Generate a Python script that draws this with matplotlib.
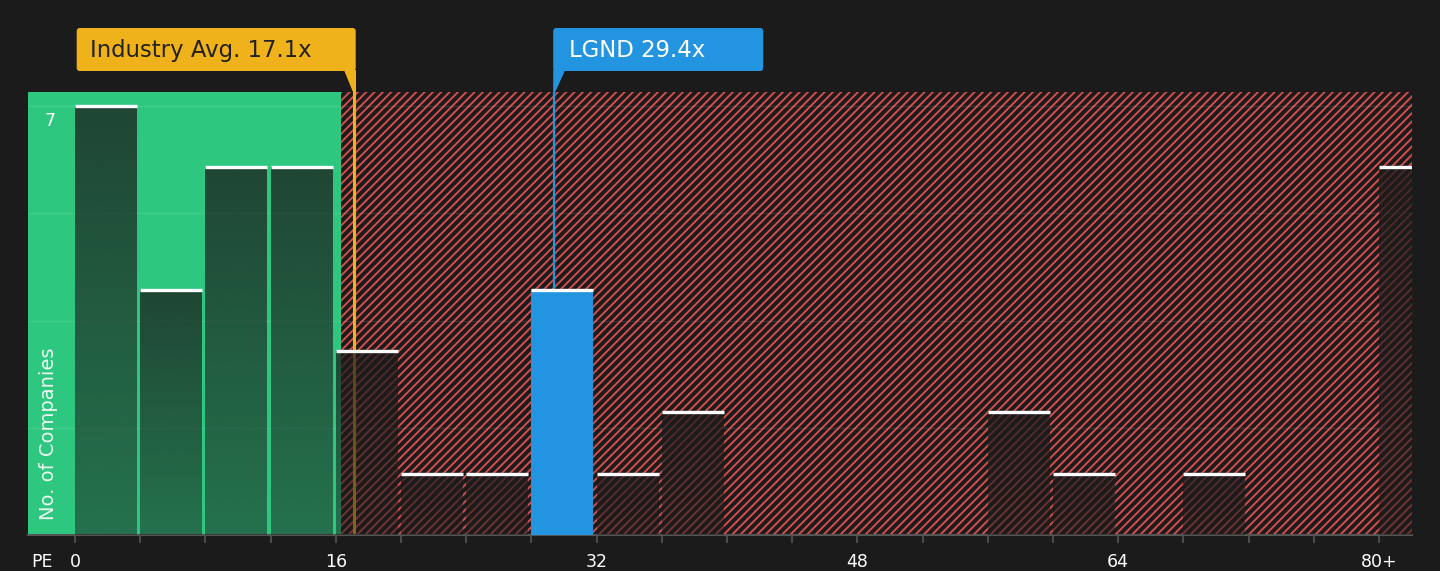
import numpy as np
import matplotlib.pyplot as plt
from matplotlib.patches import FancyBboxPatch, Polygon
from matplotlib.transforms import IdentityTransform

# data
bin_starts = list(range(0, 84, 4))
counts = [7, 4, 6, 6, 3, 1, 1, 4, 1, 2, 0, 0, 0, 0, 2, 1, 0, 1, 0, 0, 6]
tick_labels = ['0', '', '', '', '16', '', '', '', '32', '', '', '', '48',
               '', '', '', '64', '', '', '', '80+']
industry_avg = 17.1
company_pe = 29.4
company_name = 'LGND'
green_until = 16.3

bg = '#1b1b1b'
green = '#2ec77f'
red = '#d44d4d'
blue = '#2394e0'
gold = '#f0b21a'

plt.rcParams['hatch.linewidth'] = 1.4
plt.rcParams['hatch.color'] = red

fig = plt.figure(figsize=(14.4, 5.71), dpi=100, facecolor=bg)
ax = fig.add_axes([28 / 1440, 1 - 535 / 571, 1384 / 1440, 443 / 571])
ax.set_facecolor(bg)
xmin, xmax = -2.88, 82.02
ymax = 7.23

# background zones
ax.axvspan(xmin, green_until, color=green, lw=0, zorder=0)
ax.axvspan(green_until, xmax, facecolor=bg, edgecolor=red, hatch='////', lw=0, zorder=0)

for g in [1.75, 3.5, 5.25, 7]:
    ax.axhline(g, color='white', alpha=0.09, lw=1, zorder=1)

ax.axvline(industry_avg, color=gold, lw=2.2, zorder=1.5)
ax.vlines(company_pe, 4, ymax, color=blue, lw=1.6, zorder=1.5)

# bars
width = 3.8
n = 64
alpha = np.linspace(0.75, 0.5, n)
grad = np.zeros((n, 1, 4))
grad[:, 0, :3] = np.array([27, 27, 27]) / 255
grad[:, 0, 3] = alpha
for x0, c in zip(bin_starts, counts):
    if c == 0:
        continue
    if x0 <= company_pe < x0 + 4:
        ax.bar(x0, c, width=width, align='edge', color=blue, lw=0, zorder=3)
    else:
        ax.imshow(grad, extent=[x0, x0 + width, 0, c], aspect='auto',
                  interpolation='bilinear', zorder=3)
    ax.hlines(c, x0, x0 + width, color='white', lw=2.4, zorder=5)

ax.set_xlim(xmin, xmax)
ax.set_ylim(0, ymax)

ax.set_xticks(bin_starts)
ax.set_xticklabels(tick_labels)
ax.tick_params(axis='x', length=6, width=1.2, color='#555555', labelcolor='white',
               labelsize=12.5, pad=7)
ax.set_yticks([])
for s in ['left', 'right', 'top']:
    ax.spines[s].set_visible(False)
ax.spines['bottom'].set_color('#555555')
ax.spines['bottom'].set_linewidth(1.5)

ax.text(0.012, 6.91, '7', transform=ax.get_yaxis_transform(), color='white',
        fontsize=12.5, ha='left', va='top')
ax.text(0.008, 0.033, 'No. of Companies', transform=ax.transAxes, rotation=90,
        color='white', fontsize=14, ha='left', va='bottom', alpha=0.9)
fig.text(42 / 1440, 1 - 562 / 571, 'PE', color='white', fontsize=12.5,
         ha='center', va='center')

# label boxes in pixel space
H = 571
box_bot, box_top, ax_top = H - 71, H - 28, H - 92
ident = IdentityTransform()

lx = ax.transData.transform((industry_avg, 0))[0]
r = lx + 2
fig.add_artist(FancyBboxPatch((r - 279, box_bot), 279, box_top - box_bot,
                              boxstyle='round,pad=0,rounding_size=3',
                              transform=ident, facecolor=gold, lw=0))
fig.add_artist(Polygon([(r - 12, box_bot + 1), (r, box_bot + 1), (r, ax_top), (lx - 1, ax_top)],
                       transform=ident, facecolor=gold, lw=0))
fig.text(r - 279 + 13, (box_bot + box_top) / 2 - 1, 'Industry Avg. %.1fx' % industry_avg,
         transform=ident, color='#222222', fontsize=16.4, ha='left', va='center')

cx = ax.transData.transform((company_pe, 0))[0]
l = cx - 1
fig.add_artist(FancyBboxPatch((l, box_bot), 210, box_top - box_bot,
                              boxstyle='round,pad=0,rounding_size=3',
                              transform=ident, facecolor=blue, lw=0))
fig.add_artist(Polygon([(l, box_bot + 1), (l + 12, box_bot + 1), (cx + 1, ax_top), (l, ax_top)],
                       transform=ident, facecolor=blue, lw=0))
fig.text(l + 16, (box_bot + box_top) / 2 - 1, '%s %.1fx' % (company_name, company_pe),
         transform=ident, color='white', fontsize=16.4, ha='left', va='center')

fig.savefig('out.png', dpi=100, facecolor=bg)
